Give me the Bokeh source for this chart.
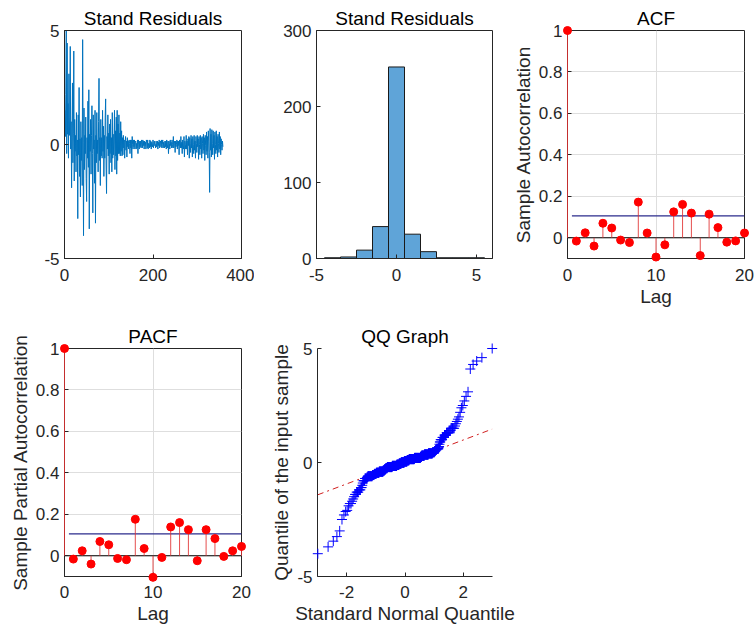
from statistics import NormalDist
import numpy as np
from bokeh.plotting import figure
from bokeh.layouts import row, column
from bokeh.models import FixedTicker, CustomJSTickFormatter, Range1d
from bokeh.embed import file_html
from bokeh.resources import INLINE

# ---------------- data ----------------
resid_early = [
    1.5, 0.35, 2.2, 5.0, -0.4, 4.45, 0.45, 1.8, -0.6, 3.1,
    0.4, 1.2, 4.3, -0.2, 1.0, -1.9, 0.3, 2.7, -0.8, 0.5,
    4.1, -1.6, 1.1, -0.3, 0.4, -1.2, 1.4, -0.5, 0.2, -3.25,
    1.3, -0.45, 2.5, -1.4, 0.25, -2.3, 1.0, -0.7, 0.3, -1.8,
    4.6, 0.1, -4.0, 1.6, -1.1, 0.4, -0.4, 1.2, -1.5, -2.5,
    0.3, -0.6, 1.9, -1.0, 2.4, -3.7, 0.45, -0.3, 1.1, -1.3,
    0.4, 1.7, -0.4, -3.0, 1.3, -0.2, 0.2, -1.7, 1.5, -3.45,
    0.4, -0.8, 1.4, -0.4, 0.2, -1.2, 1.0, 2.9, -0.7, 0.3,
    -1.8, 1.1, -0.5, 0.3, -0.6, 1.5, -0.3, 0.8, -1.4, 0.4,
    -0.6, 1.2, 2.0, -0.9, -2.15, 0.35, -0.2, 1.3, -0.5, 0.5,
    -1.3, 0.9, -0.4, 1.1, -0.8, 0.3, -1.2, 1.4, -0.6, 0.45,
    -0.45, 0.2, 1.5, -1.1, 0.6, -0.5, 1.2, -1.3, 1.5, -0.7,
    0.9, -0.4, 1.3, -0.4, 0.5, -0.5, 1.0, -0.3, 0.6, -0.5,
]
resid_late = [
    0.3, -0.45, 0.4, -0.15, 0.2, -0.6, 0.1, 0.35, -0.25, 0.15, -0.55, 0.3,
    -0.1, 0.15, -0.2, 0.2, 0.05, -0.4, 0.2, -0.15, 0.2, -0.6, 0.35, 0.0,
    -0.2, 0.2, -0.1, 0.2, -0.2, 0.1, 0.15, -0.2, 0.05, -0.15, 0.2, -0.4,
    0.2, 0.0, -0.2, 0.15, -0.1, 0.15, -0.15, 0.2, 0.0, -0.15, 0.2, -0.05,
    0.15, -0.2, 0.15, -0.05, 0.1, -0.2, 0.2, 0.1, -0.15, 0.2, -0.2, 0.05,
    0.0, -0.15, 0.2, -0.1, 0.15, -0.2, 0.1, 0.0, -0.1, 0.2, -0.15, 0.05,
    0.15, -0.05, 0.0, -0.15, 0.15, -0.1, 0.05, 0.15, -0.2, 0.1, -0.05, 0.2,
    -0.15, 0.05, 0.15, -0.1, 0.2, -0.15, 0.0, 0.2, -0.15, 0.1, -0.05, -0.15,
    0.15, -0.1, 0.15, -0.2, 0.2, 0.0, -0.15, 0.15, -0.4, 0.15, 0.05, -0.2,
    0.2, -0.05, 0.1, -0.15, 0.2, 0.0, -0.15, 0.35, -0.15, 0.05, 0.15, -0.35,
    0.15, -0.1, 0.0, 0.2, -0.2, 0.15, -0.05, 0.15, -0.45, 0.2, 0.05, -0.15,
    0.35, -0.15, 0.1, -0.4, 0.2, -0.05, -0.2, 0.35, -0.55, 0.15, 0.0, -0.2,
    0.4, -0.2, 0.15, -0.45, 0.25, -0.05, 0.35, -0.6, 0.3, 0.05, -0.35, 0.4,
    -0.15, 0.25, -0.55, 0.35, 0.0, -0.4, 0.4, -0.25, 0.15, -0.6, 0.35, 0.05,
    -0.35, 0.4, -0.1, 0.25, -0.65, 0.35, 0.0, -0.45, 0.4, -0.2, 0.3, -0.6,
    0.35, 0.05, -0.4, 0.45, -0.25, 0.3, -0.7, 0.4, -0.05, -0.45, 0.55, -0.3,
    0.35, -0.6, 0.6, 0.15, -0.35, -2.1, 0.7, -0.25, 0.45, -0.55, 0.65, 0.05,
    -0.45, 0.6, -0.15, 0.4, -0.65, 0.55, 0.0, -0.4, 0.6, -0.25, 0.35, -0.55,
    0.45, 0.05, -0.35, 0.55, -0.2, 0.35, -0.45, 0.25, 0.0, -0.25, 0.15, -0.1,
]
resid = resid_early + resid_late

hist_edges = [-4.5, -3.5, -2.5, -1.5, -0.5, 0.5, 1.5, 2.5, 3.5, 4.5, 5.5]
hist_counts = [1, 2, 11, 42, 252, 32, 9, 1, 1, 1]

lags = list(range(21))
acf_vals = [1.0, -0.016, 0.024, -0.040, 0.070, 0.047, -0.011, -0.023, 0.172, 0.023,
            -0.093, -0.034, 0.125, 0.161, 0.119, -0.086, 0.114, 0.049, -0.021, -0.015, 0.023]
pacf_vals = [1.0, -0.016, 0.024, -0.040, 0.069, 0.053, -0.013, -0.019, 0.176, 0.035,
             -0.104, -0.008, 0.139, 0.160, 0.126, -0.024, 0.126, 0.083, -0.003, 0.024, 0.045]

# ---------------- styling helpers ----------------
FONT = "Liberation Sans"
AXC = "#262626"
fmt = CustomJSTickFormatter(code="return String(tick);")


def make_fig(w, h, l, r, t, b, xr, yr, xticks, yticks, title,
             xlabel=None, ylabel=None, box=True, grid=False, xstand=10):
    p = figure(width=w, height=h, x_range=Range1d(*xr), y_range=Range1d(*yr),
               output_backend="svg", toolbar_location=None, title=title,
               min_border_left=l, min_border_right=r, min_border_top=t, min_border_bottom=b)
    p.title.align = "center"
    p.title.text_font = FONT
    p.title.text_font_size = "19px"
    p.title.text_font_style = "normal"
    p.title.text_color = "black"
    p.title.standoff = 3
    p.background_fill_color = "white"
    p.border_fill_color = "white"
    p.outline_line_color = AXC if box else None
    p.outline_line_alpha = 1.0
    p.xaxis.ticker = FixedTicker(ticks=xticks)
    p.yaxis.ticker = FixedTicker(ticks=yticks)
    for ax in p.xaxis + p.yaxis:
        ax.formatter = fmt
        ax.major_label_text_font = FONT
        ax.major_label_text_font_size = "17px"
        ax.major_label_text_color = AXC
        ax.axis_line_color = AXC
        ax.major_tick_line_color = AXC
        ax.major_tick_in = 4
        ax.major_tick_out = 0
        ax.minor_tick_line_color = None
        ax.axis_label_text_font = FONT
        ax.axis_label_text_font_size = "19px"
        ax.axis_label_text_font_style = "normal"
        ax.axis_label_text_color = AXC
        ax.axis_label_standoff = 2
    for ax in p.xaxis:
        ax.major_label_standoff = xstand
    for ax in p.yaxis:
        ax.major_label_standoff = 5
    if xlabel:
        p.xaxis.axis_label = xlabel
    if ylabel:
        p.yaxis.axis_label = ylabel
    if grid:
        p.xgrid.ticker = FixedTicker(ticks=xticks)
        p.ygrid.ticker = FixedTicker(ticks=yticks)
        p.grid.grid_line_color = "#dedede"
    else:
        p.grid.grid_line_color = None
    return p


n = len(resid)
idx = list(range(1, n + 1))

# 1) residual series
p1 = make_fig(254, 310, 64, 13, 30, 52, (0, 400), (-5, 5), [0, 200, 400], [-5, 0, 5],
              "Stand Residuals")
p1.line(idx, resid, line_color="#0072BD", line_width=1)

# 2) histogram
p2 = make_fig(250, 310, 62, 12, 30, 52, (-5, 6), (0, 300), [-5, 0, 5], [0, 100, 200, 300],
              "Stand Residuals")
p2.quad(left=hist_edges[:-1], right=hist_edges[1:], top=hist_counts, bottom=0,
        fill_color="#5fa4d8", line_color="#1a1a1a", line_width=1)

bound = 2.0 / np.sqrt(n)


def stem_plot(p, vals):
    p.line([lags[0], lags[-1]], [0, 0], line_color="black", line_width=1)
    p.line([0.5, lags[-1]], [bound, bound], line_color="#2b2b8c", line_width=1.2)
    p.line([0.5, lags[-1]], [-bound, -bound], line_color="#2b2b8c", line_width=1.2)
    s = p.segment(x0=lags, y0=[0] * len(lags), x1=lags, y1=vals,
                  line_color="#e03030", line_width=1, line_alpha=0.85)
    m = p.scatter(lags, vals, marker="circle", size=8, fill_color="#ff0000",
                  line_color="#ff0000")
    s.level = "overlay"
    m.level = "overlay"


acf_yticks = [0, 0.2, 0.4, 0.6, 0.8, 1]

# 3) ACF
p3 = make_fig(250, 310, 63, 10, 30, 52, (0, 20), (-0.1, 1), [0, 10, 20], acf_yticks,
              "ACF", xlabel="Lag", ylabel="Sample Autocorrelation", grid=True)
stem_plot(p3, acf_vals)

# 4) PACF
p4 = make_fig(254, 320, 64, 13, 38, 54, (0, 20), (-0.1, 1), [0, 10, 20], acf_yticks,
              "PACF", xlabel="Lag", ylabel="Sample Partial Autocorrelation", grid=True,
              xstand=9)
stem_plot(p4, pacf_vals)

# 5) QQ plot
sample = sorted(resid)
nd = NormalDist()
theo = [nd.inv_cdf((i - 0.5) / n) for i in range(1, n + 1)]
q1, q3 = np.percentile(sample, [25, 75])
z1, z3 = nd.inv_cdf(0.25), nd.inv_cdf(0.75)
slope = (q3 - q1) / (z3 - z1)
icpt = q1 - slope * z1
xl = [theo[0], theo[-1]]

p5 = make_fig(300, 320, 63, 62, 38, 54, (-3, 3), (-5, 5), [-2, 0, 2], [-5, 0, 5],
              "QQ Graph", xlabel="Standard Normal Quantile",
              ylabel="Quantile of the input sample", box=False, xstand=9)
p5.line(xl, [icpt + slope * x for x in xl], line_color="#d02020", line_width=1,
        line_dash="dashdot")
qq = p5.scatter(theo, sample, marker="cross", size=10, line_color="#0000ff", line_width=1)
qq.level = "overlay"

layout = column(row(p1, p2, p3), row(p4, p5))
open("out.html", "w").write(file_html(layout, INLINE))
